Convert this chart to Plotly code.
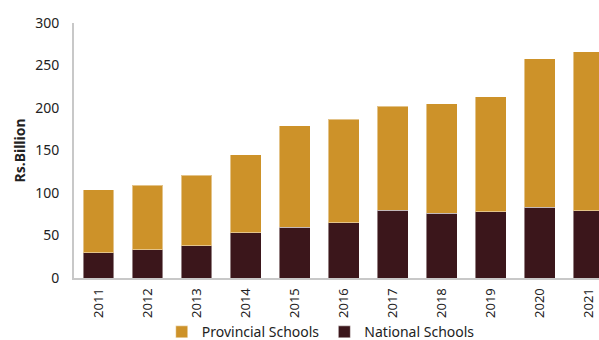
import plotly.graph_objects as go

years = ["2011", "2012", "2013", "2014", "2015", "2016", "2017", "2018", "2019", "2020", "2021"]
national = [30, 33, 38, 53, 60, 65, 80, 76, 78, 83, 79]
provincial = [74, 76, 83, 92, 119, 122, 122, 129, 135, 175, 187]
y_ticks = [0, 50, 100, 150, 200, 250, 300]

NATIONAL_COLOR = "#3B161B"
PROVINCIAL_COLOR = "#CD9229"
TEXT_COLOR = "#222222"
FONT = "Noto Sans"

fig = go.Figure()
fig.add_trace(go.Bar(
    x=years, y=national, name="National Schools",
    marker=dict(color=NATIONAL_COLOR, line=dict(color="rgba(255,255,255,0.45)", width=1)),
))
fig.add_trace(go.Bar(
    x=years, y=provincial, name="Provincial Schools",
    marker=dict(color=PROVINCIAL_COLOR, line=dict(color="rgba(255,255,255,0.45)", width=1)),
))

fig.update_layout(
    width=599, height=340,
    barmode="stack", bargap=0.37,
    margin=dict(l=74, r=0, t=23, b=62, autoexpand=False),
    paper_bgcolor="white", plot_bgcolor="white",
    font=dict(family=FONT, size=14, color=TEXT_COLOR),
    showlegend=True,
    legend=dict(
        orientation="h", traceorder="reversed", bgcolor="rgba(0,0,0,0)",
        x=0.47, xanchor="center", y=-0.15, yanchor="top",
        font=dict(size=14), itemwidth=30, tracegroupgap=0,
    ),
    xaxis=dict(
        type="category", range=[-0.5, 10.21], tickangle=-90,
        showline=True, linecolor="#C8C8C8", linewidth=2,
        ticks="", showgrid=False, tickfont=dict(size=13),
        automargin=False, ticklabelstandoff=3,
    ),
    yaxis=dict(
        range=[0, 300], tickvals=y_ticks, showgrid=False, zeroline=False,
        showline=True, linecolor="#C8C8C8", linewidth=2, ticks="",
        tickfont=dict(size=14), automargin=False, ticklabelstandoff=10,
        title=dict(text="<b>Rs.Billion</b>", font=dict(size=14), standoff=6),
    ),
)

fig.write_html("out.html")
